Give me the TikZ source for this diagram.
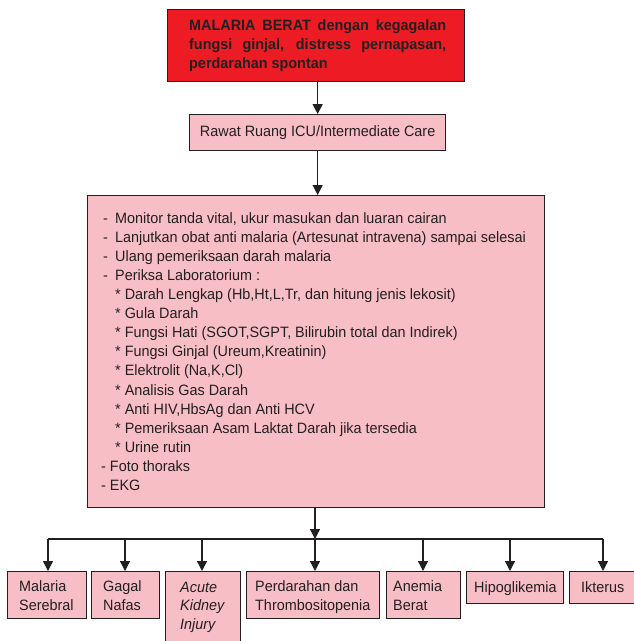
\documentclass[tikz,border=0pt]{standalone}
\usepackage{fontspec}
\setmainfont{Liberation Sans}[FakeStretch=0.96]
\usetikzlibrary{arrows.meta}
\definecolor{boxpink}{RGB}{247,190,198}
\definecolor{alarmred}{RGB}{237,28,36}
\definecolor{ink}{RGB}{35,31,32}
\begin{document}
\begin{tikzpicture}[x=1pt,y=-1pt,
  box/.style={draw=ink, line width=1.3pt, fill=boxpink, inner sep=0pt, anchor=north west},
  txt/.style={inner sep=0pt, text=ink, font=\fontsize{15}{19.07}\selectfont, align=left, anchor=base west},
  link/.style={draw=ink, line width=1.3pt},
  arr/.style={link, -{Triangle[width=10pt,length=10pt]}}]

\useasboundingbox (0,0) rectangle (634,641);
\clip (0,0) rectangle (634,641);

% headline box (fixed-width text is placed by its first baseline)
\node[box, fill=alarmred, minimum width=297pt, minimum height=72pt] (alarm) at (167,9) {};
\node[txt, text width=257pt, align=justify, font=\fontsize{15}{19.07}\selectfont\bfseries] (alarmtxt) at (189,30.4)
  {MALARIA BERAT dengan kegagalan fungsi ginjal, distress pernapasan, perdarahan spontan};

% ward box
\node[box, minimum width=256pt, minimum height=36pt, text=ink, font=\fontsize{15}{19.07}\selectfont] (icu) at (189,114)
  {Rawat Ruang ICU/Intermediate Care};

% care and laboratory box (multi-line text is placed by its last baseline)
\node[box, minimum width=457pt, minimum height=312pt] (care) at (87,195) {};
\node[txt] (caretxt) at (103,490.4) {%
\makebox[12pt][l]{-}Monitor tanda vital, ukur masukan dan luaran cairan\\
\makebox[12pt][l]{-}Lanjutkan obat anti malaria (Artesunat intravena) sampai selesai\\
\makebox[12pt][l]{-}Ulang pemeriksaan darah malaria\\
\makebox[12pt][l]{-}Periksa Laboratorium :\\
\hspace*{12pt}* Darah Lengkap (Hb,Ht,L,Tr, dan hitung jenis lekosit)\\
\hspace*{12pt}* Gula Darah\\
\hspace*{12pt}* Fungsi Hati (SGOT,SGPT, Bilirubin total dan Indirek)\\
\hspace*{12pt}* Fungsi Ginjal (Ureum,Kreatinin)\\
\hspace*{12pt}* Elektrolit (Na,K,Cl)\\
\hspace*{12pt}* Analisis Gas Darah\\
\hspace*{12pt}* Anti HIV,HbsAg dan Anti HCV\\
\hspace*{12pt}* Pemeriksaan Asam Laktat Darah jika tersedia\\
\hspace*{12pt}* Urine rutin\\
\hspace*{-2pt}- Foto thoraks\\
\hspace*{-2pt}- EKG};

% complication boxes
\node[box, minimum width=79pt,  minimum height=47pt] (b1) at (7,571) {};
\node[box, minimum width=68pt,  minimum height=47pt] (b2) at (91,571) {};
\node[box, minimum width=75pt,  minimum height=80pt] (b3) at (165,571) {};
\node[box, minimum width=133pt, minimum height=47pt] (b4) at (246,571) {};
\node[box, minimum width=74pt,  minimum height=47pt] (b5) at (386,571) {};
\node[box, minimum width=97pt,  minimum height=32pt] (b6) at (466,571) {};
\node[box, minimum width=70pt,  minimum height=32pt] (b7) at (569,571) {};

\node[txt] (t1) at (19,610.4)  {Malaria\\Serebral};
\node[txt] (t2) at (103,610.4) {Gagal\\Nafas};
\node[txt, font=\fontsize{15}{18.6}\selectfont\itshape] (t3) at (180,629.4) {Acute\\Kidney\\Injury};
\node[txt] (t4) at (255,610.4) {Perdarahan dan\\Thrombositopenia};
\node[txt] (t5) at (393,610.4) {Anemia\\Berat};
\node[txt] (t6) at (474,592.4) {Hipoglikemia};
\node[txt] (t7) at (581,592.4) {Ikterus};

% vertical flow
\draw[arr] (alarm.south -| icu.north) -- (icu.north);
\draw[arr] (icu.south) -- (icu.south |- care.north);

% distribution bus
\coordinate (j1) at (48,539);
\coordinate (j2) at (125,539);
\coordinate (j3) at (202,539);
\coordinate (j4) at (315,539);
\coordinate (j5) at (423,539);
\coordinate (j6) at (510,539);
\coordinate (j7) at (603,539);
\draw[link] (j1) -- (j7);
\draw[arr] (j4 |- care.south) -- (j4);
\foreach \k in {1,...,7} {
  \draw[arr] (j\k) -- (j\k |- b\k.north);
}
\end{tikzpicture}
\end{document}
